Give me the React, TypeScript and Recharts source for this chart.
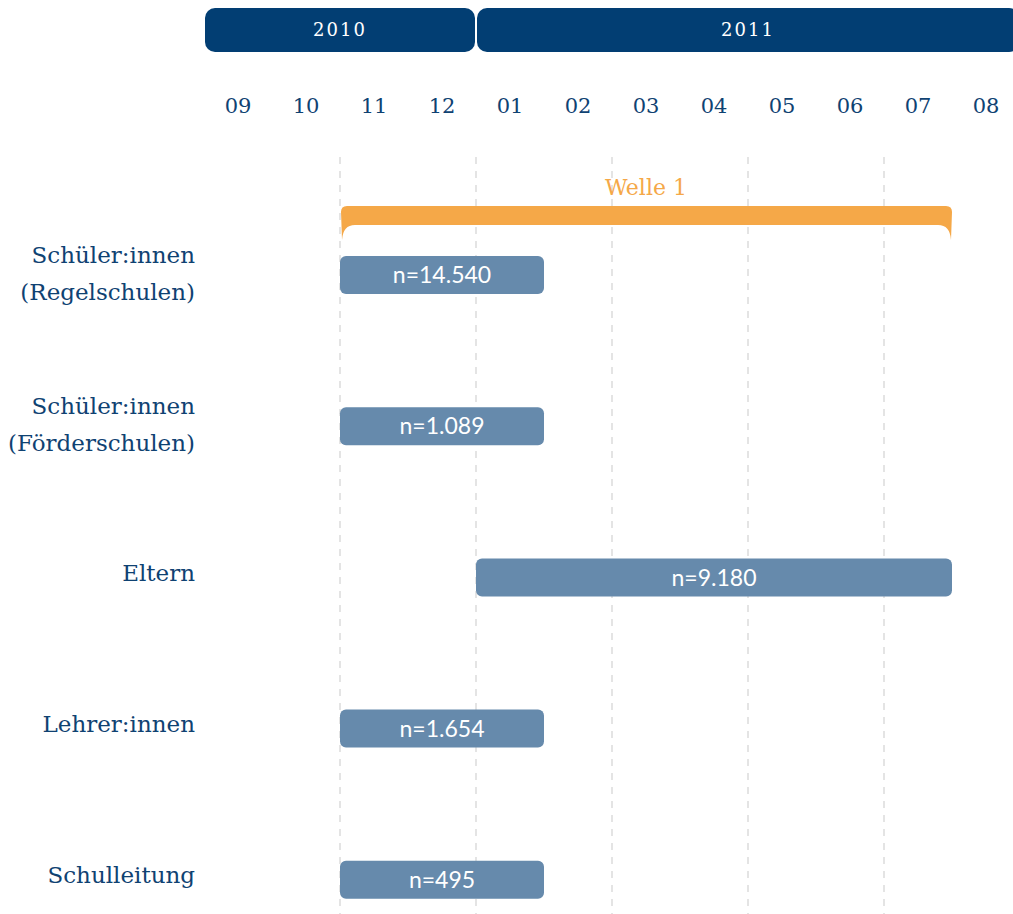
import React from 'react';
import {
  BarChart, Bar, XAxis, YAxis, CartesianGrid, ReferenceArea, LabelList,
} from 'recharts';

// ---- data ----
const categories = [
  'Schüler:innen\n(Regelschulen)',
  'Schüler:innen\n(Förderschulen)',
  'Eltern',
  'Lehrer:innen',
  'Schulleitung',
];
// month index, 0 = 09/2010
const starts = [2, 2, 4, 2, 2];
const ends = [5, 5, 11, 5, 5];
const nLabels = ['n=14.540', 'n=1.089', 'n=9.180', 'n=1.654', 'n=495'];

const months = ['09', '10', '11', '12', '01', '02', '03', '04', '05', '06', '07', '08'];
const years = ['2010', '2011'];
const yearStarts = [0, 4];
const yearEnds = [4, 12];
const waveLabel = 'Welle 1';
const waveStart = 2;
const waveEnd = 11;
const gridMonths = [2, 4, 6, 8, 10];

// ---- styles ----
const DARK = '#023e73';
const TEXT = '#0f4272';
const BAR = '#668aac';
const ORANGE = '#f5a848';
const GRID = '#e4e4e4';
const SERIF = '"DejaVu Serif", serif';
const SANS = 'Lato, "Open Sans", sans-serif';

const CHART_W = 1030;
const MARGIN_X = { left: 204, right: 10 };

const rows = categories.map((name, i) => ({ name, range: [starts[i], ends[i]], n: nLabels[i] }));
const dummy = [{ name: 'row' }];

const YearShape = (p: any) => (
  <rect x={p.x + 1} y={p.y} width={Math.max(0, p.width - 2)} height={p.height} rx={10} ry={10} fill={DARK} />
);

const BracketShape = (p: any) => {
  const x1 = p.x + 1;
  const x2 = p.x + p.width;
  const y = p.y;
  const h = p.height;
  const r = 6;
  const tip = 15;
  const d = [
    `M ${x1} ${y + r}`,
    `Q ${x1} ${y} ${x1 + r} ${y}`,
    `L ${x2 - r} ${y}`,
    `Q ${x2} ${y} ${x2} ${y + r}`,
    `L ${x2 - 1} ${y + h + tip}`,
    `Q ${x2 - 2} ${y + h} ${x2 - 14} ${y + h}`,
    `L ${x1 + 14} ${y + h}`,
    `Q ${x1 + 2} ${y + h} ${x1 + 1} ${y + h + tip}`,
    'Z',
  ].join(' ');
  return <path d={d} fill={ORANGE} />;
};

const RowTick = (p: any) => {
  const lines = String(p.payload.value).split('\n');
  const { x, y } = p;
  if (lines.length === 1) {
    return (
      <text x={x} y={y + 4} textAnchor="end" fill={TEXT} fontFamily={SERIF} fontSize={23}>
        {lines[0]}
      </text>
    );
  }
  return (
    <text x={x} textAnchor="end" fill={TEXT} fontFamily={SERIF} fontSize={23}>
      <tspan x={x} y={y - 12}>{lines[0]}</tspan>
      <tspan x={x} y={y + 25}>{lines[1]}</tspan>
    </text>
  );
};

const overlayStyle = (top: number): React.CSSProperties => ({ position: 'absolute', left: 0, top, pointerEvents: 'none' });

export default function App() {
  return (
    <div style={{ position: 'absolute', left: 0, top: 0, width: 1013, height: 914, overflow: 'hidden', background: '#fff' }}>
      {/* main chart */}
      <div style={overlayStyle(0)}>
        <BarChart
          width={CHART_W}
          height={960}
          data={rows}
          layout="vertical"
          margin={{ top: 0, right: MARGIN_X.right, bottom: 0, left: 0 }}
          barSize={38}
        >
          <CartesianGrid
            xAxisId="grid"
            horizontal={false}
            verticalValues={gridMonths}
            syncWithTicks
            stroke={GRID}
            strokeWidth={2}
            strokeDasharray="7 7"
          />
          <XAxis
            xAxisId={0}
            type="number"
            orientation="top"
            domain={[0, 12]}
            allowDataOverflow
            ticks={months.map((_, i) => i + 0.5)}
            tickFormatter={(v: number) => months[Math.floor(v)]}
            interval={0}
            height={157}
            axisLine={false}
            tickLine={false}
            tickSize={0}
            tickMargin={44}
            tick={{ fill: TEXT, fontFamily: SERIF, fontSize: 21 }}
          />
          <XAxis
            xAxisId="grid"
            type="number"
            orientation="top"
            domain={[0, 12]}
            allowDataOverflow
            ticks={gridMonths}
            interval={0}
            hide
          />
          <YAxis
            type="category"
            dataKey="name"
            width={204}
            axisLine={false}
            tickLine={false}
            tickSize={0}
            tickMargin={9}
            interval={0}
            padding={{ top: 42, bottom: 5 }}
            tick={<RowTick />}
          />
          <Bar dataKey="range" fill={BAR} radius={6} isAnimationActive={false}>
            <LabelList dataKey="n" position="center" fill="#ffffff" fontFamily={SANS} fontSize={23} />
          </Bar>
        </BarChart>
      </div>

      {/* year bands */}
      <div style={overlayStyle(0)}>
        <BarChart
          width={CHART_W}
          height={60}
          data={dummy}
          layout="vertical"
          margin={{ top: 8, right: MARGIN_X.right, bottom: 8, left: MARGIN_X.left }}
        >
          <XAxis type="number" domain={[0, 12]} allowDataOverflow hide />
          <YAxis type="category" dataKey="name" hide />
          {years.map((yr, i) => (
            <ReferenceArea
              key={yr}
              x1={yearStarts[i]}
              x2={yearEnds[i]}
              ifOverflow="visible"
              shape={<YearShape />}
              label={{ value: yr, position: 'center', fill: '#ffffff', fontFamily: SERIF, fontSize: 18, letterSpacing: 2 }}
            />
          ))}
        </BarChart>
      </div>

      {/* wave bracket */}
      <div style={overlayStyle(150)}>
        <BarChart
          width={CHART_W}
          height={100}
          data={dummy}
          layout="vertical"
          margin={{ top: 56, right: MARGIN_X.right, bottom: 25, left: MARGIN_X.left }}
        >
          <XAxis type="number" domain={[0, 12]} allowDataOverflow hide />
          <YAxis type="category" dataKey="name" hide />
          <ReferenceArea
            x1={waveStart}
            x2={waveEnd}
            ifOverflow="visible"
            shape={<BracketShape />}
            label={{ value: waveLabel, position: 'top', offset: 11, fill: ORANGE, fontFamily: SERIF, fontSize: 22 }}
          />
        </BarChart>
      </div>
    </div>
  );
}
